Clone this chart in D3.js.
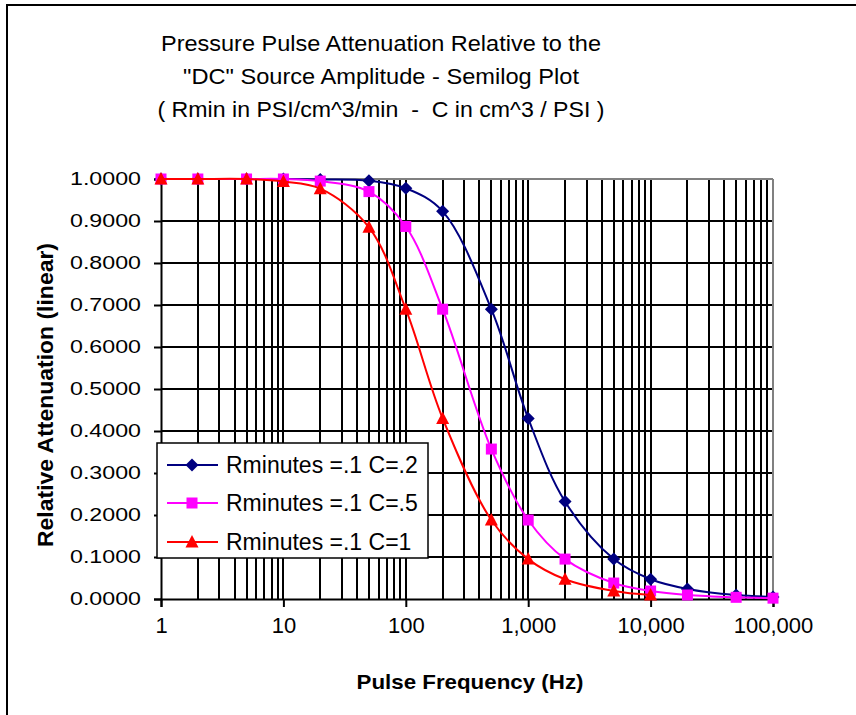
<!DOCTYPE html>
<html><head><meta charset="utf-8">
<script src="https://cdn.jsdelivr.net/npm/d3@7"></script>
<style>body{margin:0;background:#fff}svg{display:block}text{font-family:"Liberation Sans",Arial,sans-serif;fill:#000;white-space:pre}</style>
</head><body><svg id="c" width="856" height="715"></svg>
<script>
const titleLines = ["Pressure Pulse Attenuation Relative to the", "\"DC\" Source Amplitude - Semilog Plot", "( Rmin in PSI/cm^3/min  -  C in cm^3 / PSI )"];
const freqs = [1,2,5,10,20,50,100,200,500,1000,2000,5000,10000,20000,50000,100000];
const seriesNames = ["Rminutes =.1 C=.2", "Rminutes =.1 C=.5", "Rminutes =.1 C=1"];
const valsC02 = [1,1,1,1,0.999,0.996,0.978,0.923,0.69,0.43,0.232,0.095,0.047,0.024,0.0095,0.005];
const valsC05 = [1,1,1,1,0.995,0.970,0.887,0.69,0.357,0.188,0.095,0.038,0.019,0.0095,0.004,0.002];
const valsC1  = [1,1,1,0.994,0.977,0.885,0.69,0.43,0.188,0.095,0.047,0.019,0.0095];
const yTicks = [0,0.1,0.2,0.3,0.4,0.5,0.6,0.7,0.8,0.9,1.0];
const xTicks = [1,10,100,1000,10000,100000];
const xTitle = "Pulse Frequency (Hz)";
const yTitle = "Relative Attenuation (linear)";

const svg = d3.select("#c");
svg.append("rect").attr("x",7).attr("y",5).attr("width",900).attr("height",800).attr("fill","#fff").attr("stroke","#000").attr("stroke-width",2);

const x = d3.scaleLog().domain([1,100000]).range([161,773]);
const y = d3.scaleLinear().domain([0,1]).range([599,179]);

// title
const tW = [440,396,447];
titleLines.forEach((t,i)=>{
  svg.append("text").attr("x",381).attr("y",51+i*33).attr("text-anchor","middle")
    .attr("font-size",21.5).attr("textLength",tW[i]).attr("lengthAdjust","spacingAndGlyphs").text(t);
});

// grid: minor vertical
const minor = [];
for (let d=1; d<100000; d*=10) for (let k=2;k<=9;k++) minor.push(d*k);
const g = svg.append("g");
g.selectAll("line.vm").data(minor.concat(xTicks.slice(1,-1))).join("line")
  .attr("x1",d=>Math.round(x(d))).attr("x2",d=>Math.round(x(d))).attr("y1",y(1)).attr("y2",y(0))
  .attr("stroke","#000").attr("stroke-width",2);
g.selectAll("line.h").data(yTicks.slice(1,-1)).join("line")
  .attr("x1",x(1)).attr("x2",x(100000)).attr("y1",d=>Math.round(y(d))).attr("y2",d=>Math.round(y(d)))
  .attr("stroke","#000").attr("stroke-width",2);
// plot border top/right gray
g.append("line").attr("x1",x(1)).attr("x2",x(100000)).attr("y1",y(1)).attr("y2",y(1)).attr("stroke","#808080").attr("stroke-width",2);
g.append("line").attr("x1",x(100000)).attr("x2",x(100000)).attr("y1",y(1)).attr("y2",y(0)).attr("stroke","#808080").attr("stroke-width",2);

// axes
const xAxis = d3.axisBottom(x).tickValues(xTicks).tickSize(8).tickPadding(10).tickFormat(d3.format(",d"));
const xa = svg.append("g").attr("transform",`translate(0,${y(0)})`).call(xAxis);
xa.select(".domain").attr("stroke","#000").attr("stroke-width",2);
xa.selectAll(".tick line").attr("stroke","#000").attr("stroke-width",2);
xa.selectAll(".tick text").attr("font-size",22).attr("font-family","Liberation Sans, Arial, sans-serif").attr("fill","#000");

const yAxis = d3.axisLeft(y).tickValues(yTicks).tickSize(7).tickPadding(13).tickFormat(d3.format(".4f"));
const ya = svg.append("g").attr("transform",`translate(${x(1)},0)`).call(yAxis);
ya.select(".domain").attr("stroke","#000").attr("stroke-width",2);
ya.selectAll(".tick line").attr("stroke","#000").attr("stroke-width",2);
ya.selectAll(".tick text").attr("font-size",18.5).attr("font-family","Liberation Sans, Arial, sans-serif").attr("fill","#000")
  .attr("textLength",71).attr("lengthAdjust","spacingAndGlyphs");

svg.append("text").attr("x",470).attr("y",689).attr("text-anchor","middle").attr("font-weight","bold")
  .attr("font-size",21).attr("textLength",227).attr("lengthAdjust","spacingAndGlyphs").text(xTitle);
svg.append("text").attr("transform","translate(53,395) rotate(-90)").attr("text-anchor","middle").attr("font-weight","bold")
  .attr("font-size",22).attr("textLength",304).attr("lengthAdjust","spacingAndGlyphs").text(yTitle);

// series
const colors = ["#000080","#FF00FF","#FF0000"];
const markerPaths = [
  "M0,-6.5L6.5,0L0,6.5L-6.5,0Z",
  "M-5.5,-5.5H5.5V5.5H-5.5Z",
  "M0,-7L6.5,5.5H-6.5Z"
];
const allVals = [valsC02, valsC05, valsC1];
const line = d3.line().x(d=>x(d[0])).y(d=>y(d[1])).curve(d3.curveCatmullRom.alpha(0.5));
allVals.forEach((vals,i)=>{
  const pts = vals.map((v,j)=>[freqs[j],v]);
  svg.append("path").datum(pts).attr("d",line).attr("fill","none").attr("stroke",colors[i]).attr("stroke-width",2);
  svg.append("g").selectAll("path").data(pts).join("path")
    .attr("transform",d=>`translate(${x(d[0])},${y(d[1])})`)
    .attr("d",markerPaths[i]).attr("fill",colors[i]);
});

// legend
const lg = svg.append("g");
lg.append("rect").attr("x",157).attr("y",443).attr("width",271).attr("height",115).attr("fill","#fff").attr("stroke","#000").attr("stroke-width",1.5);
const rowY = [465,503,542];
seriesNames.forEach((n,i)=>{
  lg.append("line").attr("x1",167).attr("x2",218).attr("y1",rowY[i]).attr("y2",rowY[i]).attr("stroke",colors[i]).attr("stroke-width",2);
  lg.append("path").attr("transform",`translate(192,${rowY[i]})`).attr("d",markerPaths[i]).attr("fill",colors[i]);
  lg.append("text").attr("x",226).attr("y",rowY[i]+8).attr("font-size",23).text(n);
});
</script></body></html>
